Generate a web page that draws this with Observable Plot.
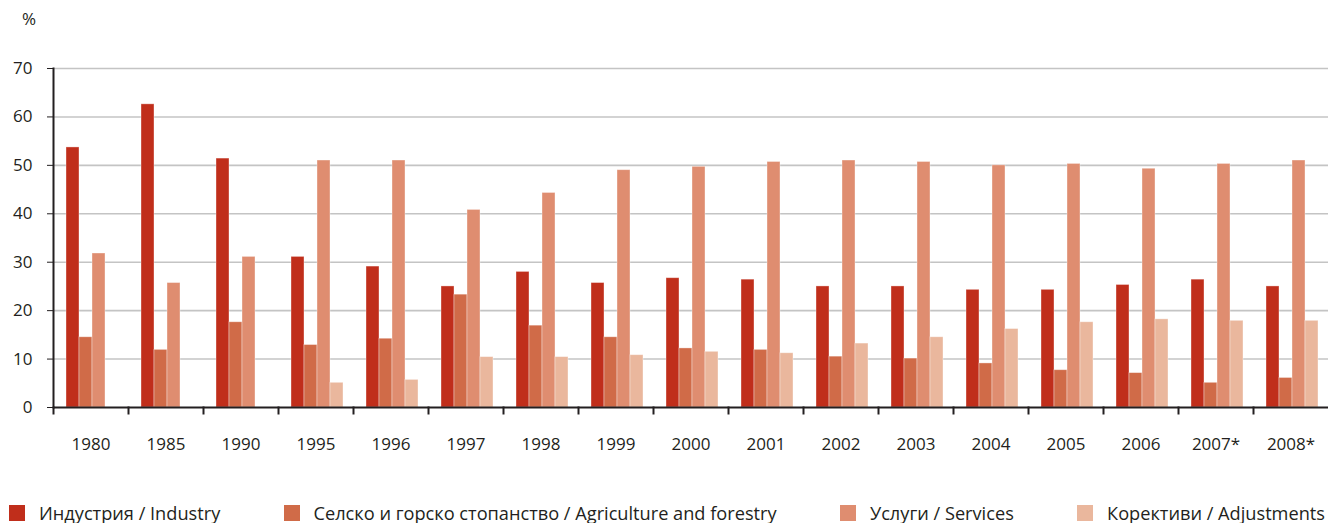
<!DOCTYPE html>
<html><head><meta charset="utf-8">
<script src="https://cdn.jsdelivr.net/npm/d3@7"></script>
<script src="https://cdn.jsdelivr.net/npm/@observablehq/plot@0.6"></script>
<style>
body{margin:0;background:#fff;overflow:hidden;font-family:"Open Sans",sans-serif;color:#231f20}
#wrap{position:relative;width:1328px;height:523px}
#unit{position:absolute;left:22px;top:7px;font-size:17px}
#chart{position:absolute;left:0;top:0}
#legend{position:absolute;left:9px;right:3px;top:501px;display:flex;justify-content:space-between;font-size:18.2px;line-height:24px;white-space:nowrap}
.item{display:flex;align-items:center}
.sw{width:16px;height:16px;margin-right:14px;flex:none}
</style></head><body>
<div id="wrap"><div id="chart"></div><div id="unit">%</div><div id="legend"></div></div>
<script>
const years = ["1980","1985","1990","1995","1996","1997","1998","1999","2000","2001","2002","2003","2004","2005","2006","2007*","2008*"];
const seriesNames = ["Индустрия / Industry","Селско и горско стопанство / Agriculture and forestry","Услуги / Services","Корективи / Adjustments"];
const industry    = [53.7, 62.6, 51.4, 31.1, 29.1, 25.0, 28.0, 25.7, 26.7, 26.4, 25.0, 25.0, 24.3, 24.3, 25.3, 26.4, 25.0];
const agriculture = [14.5, 11.9, 17.6, 12.9, 14.2, 23.3, 16.9, 14.5, 12.2, 11.9, 10.5, 10.1, 9.1, 7.7, 7.1, 5.1, 6.1];
const services    = [31.8, 25.7, 31.1, 51.0, 51.0, 40.8, 44.3, 49.0, 49.7, 50.7, 51.0, 50.7, 50.0, 50.3, 49.3, 50.3, 51.0];
const adjustments = [null, null, null, 5.1, 5.7, 10.4, 10.4, 10.8, 11.5, 11.2, 13.2, 14.5, 16.2, 17.6, 18.2, 17.9, 17.9];
const yTicks = [0,10,20,30,40,50,60,70];
const colors = ["#c02e1b","#d06b48","#df8d70","#eab79d"];

const seriesValues = [industry, agriculture, services, adjustments];
const rows = years.flatMap((y,i) => seriesNames.map((s,j) => ({year:y, series:s, value:seriesValues[j][i]})))
  .filter(d => d.value != null);

const plot = Plot.plot({
  width:1328, height:470, marginLeft:53, marginRight:0, marginTop:68, marginBottom:63,
  style:{fontFamily:"Open Sans", fontSize:"17px", color:"#231f20", background:"transparent"},
  fx:{domain:years, padding:0, label:null},
  x:{domain:seriesNames, axis:null, paddingInner:0, paddingOuter:0.78, align:0.58},
  y:{domain:[0,70], label:null},
  color:{domain:seriesNames, range:colors},
  marks:[
    Plot.gridY(yTicks.filter(t => t > 0), {stroke:"#c4c4c4", strokeOpacity:1, strokeWidth:1.6}),
    Plot.barY(rows, {fx:"year", x:"series", y:"value", fill:"series", stroke:"#fff", strokeOpacity:0.45, strokeWidth:0.8}),
    Plot.ruleY([0], {stroke:"#231f20", strokeWidth:2.2}),
    Plot.frame({anchor:"left", stroke:"#231f20", strokeWidth:2, insetTop:339, insetBottom:-6}),
    Plot.frame({anchor:"left", stroke:"#231f20", strokeWidth:2, facetAnchor:"left"}),
    Plot.axisY(yTicks, {tickSize:6, tickPadding:15, label:null, fontSize:17, stroke:"#231f20"}),
    Plot.axisFx({anchor:"bottom", tickSize:0, tickPadding:30, label:null, fontSize:17})
  ]
});
document.getElementById("chart").appendChild(plot);

const legend = document.getElementById("legend");
seriesNames.forEach((s,i) => {
  const it = document.createElement("div"); it.className = "item";
  const sw = document.createElement("span"); sw.className = "sw"; sw.style.background = colors[i];
  const tx = document.createElement("span"); tx.textContent = s;
  it.appendChild(sw); it.appendChild(tx); legend.appendChild(it);
});
</script>
</body></html>
